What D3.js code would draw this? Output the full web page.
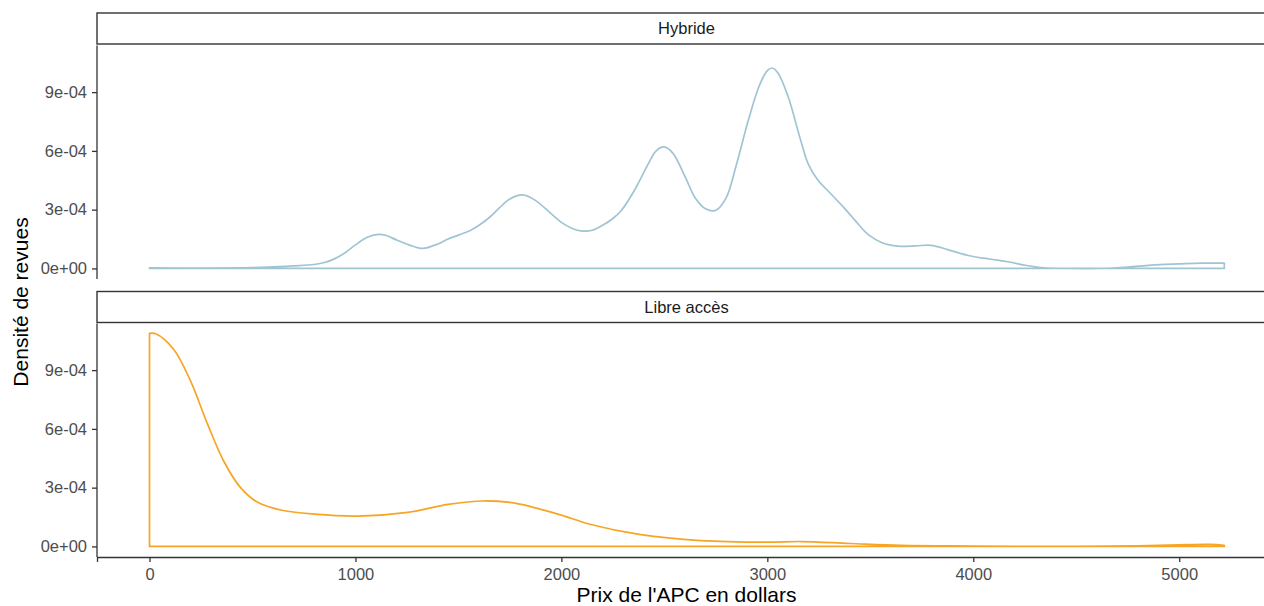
<!DOCTYPE html>
<html>
<head>
<meta charset="utf-8">
<script src="https://cdn.jsdelivr.net/npm/d3@7"></script>
<style>
  body { margin: 0; background: #fff; }
  text { font-family: "Liberation Sans", Arial, sans-serif; }
  .tick text { fill: #4d4d4d; font-size: 16.5px; }
  .strip-label { fill: #1a1a1a; font-size: 16.5px; }
  .axis-title { fill: #000; font-size: 21px; }
</style>
</head>
<body>
<svg id="chart" width="1264" height="606"></svg>
<script>
// facets
const facets = ["Hybride", "Libre accès"];
const facetColors = ["#9fc4d2", "#f6a524"];

// density estimates (price in $, density)
const hybridePrix = [0, 250, 500, 600, 700, 800, 850, 900, 950, 1000, 1060, 1113, 1150, 1200, 1260, 1327,
  1400, 1450, 1500, 1560, 1600, 1650, 1700, 1750, 1812, 1870, 1950, 2000, 2050, 2094, 2150, 2200, 2250,
  2289, 2350, 2420, 2460, 2498, 2540, 2600, 2650, 2700, 2750, 2800, 2850, 2906, 2960, 3000, 3022, 3050,
  3100, 3163, 3200, 3246, 3300, 3372, 3430, 3489, 3560, 3635, 3720, 3795, 3880, 3975, 4080, 4169, 4260,
  4344, 4450, 4621, 4750, 4864, 5000, 5107, 5219];
const hybrideDensite = [0.03, 0.02, 0.04, 0.08, 0.13, 0.2, 0.3, 0.5, 0.8, 1.2, 1.6, 1.74, 1.68, 1.45, 1.2,
  1.02, 1.25, 1.5, 1.7, 1.95, 2.2, 2.6, 3.1, 3.55, 3.75, 3.5, 2.8, 2.35, 2.05, 1.92, 1.95, 2.2, 2.55,
  2.93, 3.9, 5.3, 6.0, 6.2, 5.9, 4.7, 3.6, 3.05, 2.97, 3.6, 5.3, 7.5, 9.3, 10.1, 10.23, 10.0,
  8.8, 6.5, 5.3, 4.5, 3.9, 3.1, 2.4, 1.74, 1.3, 1.14, 1.15, 1.18, 0.95, 0.66, 0.48, 0.34, 0.15,
  0.03, 0.0, 0.0, 0.07, 0.17, 0.23, 0.27, 0.27].map(v => v * 1e-4);

const librePrix = [0, 30, 117, 199, 282, 360, 442, 525, 637, 800, 1011, 1254, 1450, 1623, 1780, 1900,
  2000, 2143, 2385, 2677, 3000, 3163, 3400, 3650, 4000, 4500, 4800, 5000, 5150, 5219];
const libreDensite = [10.88, 10.86, 10.07, 8.45, 6.24, 4.36, 3.0, 2.25, 1.86, 1.65, 1.55, 1.74, 2.15, 2.32,
  2.2, 1.89, 1.6, 1.12, 0.6, 0.3, 0.22, 0.25, 0.15, 0.05, 0.02, 0.0, 0.03, 0.08, 0.1, 0.06].map(v => v * 1e-4);

const xTicks = [0, 1000, 2000, 3000, 4000, 5000];
const yTicks = [0, 3e-4, 6e-4, 9e-4];
const yTickLabels = ["0e+00", "3e-04", "6e-04", "9e-04"];

const series = [
  d3.zip(hybridePrix, hybrideDensite),
  d3.zip(librePrix, libreDensite)
];

const svg = d3.select("#chart");

const panelLeft = 97;
const panelRight = 1276;
const stripH = 31;
const panels = [
  { stripTop: 13, top: 45.5, bottom: 279 },
  { stripTop: 291.5, top: 323.5, bottom: 557 }
];

const xScale = d3.scaleLinear().domain([-255, 5470]).range([panelLeft, panelRight]);

panels.forEach((p, i) => {
  const yScale = d3.scaleLinear().domain([-0.54e-4, 11.38e-4]).range([p.bottom, p.top]);

  // strip
  svg.append("rect")
    .attr("x", panelLeft)
    .attr("y", p.stripTop)
    .attr("width", panelRight - panelLeft + 10)
    .attr("height", stripH)
    .attr("fill", "#fff")
    .attr("stroke", "#333")
    .attr("stroke-width", 1.4);
  svg.append("text")
    .attr("class", "strip-label")
    .attr("x", (panelLeft + panelRight) / 2)
    .attr("y", p.stripTop + stripH / 2)
    .attr("dy", "0.35em")
    .attr("text-anchor", "middle")
    .text(facets[i]);

  // density outline (closed like geom_density)
  const area = d3.area()
    .x(d => xScale(d[0]))
    .y0(yScale(0))
    .y1(d => yScale(d[1]))
    .curve(d3.curveCatmullRom);
  svg.append("path")
    .datum(series[i])
    .attr("d", area)
    .attr("fill", "none")
    .attr("stroke", facetColors[i])
    .attr("stroke-width", 1.7)
    .attr("stroke-linejoin", "round");

  // y axis
  const leftAxis = d3.axisLeft(yScale)
    .tickValues(yTicks)
    .tickFormat((d, k) => yTickLabels[k])
    .tickSize(5)
    .tickPadding(5);
  const gy = svg.append("g")
    .attr("transform", `translate(${panelLeft}, 0)`)
    .call(leftAxis);
  gy.select(".domain").attr("d", `M0,${p.top}V${p.bottom}`);
  gy.selectAll("path, line").attr("stroke", "#333").attr("stroke-width", 1.3);

  // x axis only under the last panel
  if (i === panels.length - 1) {
    const bottomAxis = d3.axisBottom(xScale)
      .tickValues(xTicks)
      .tickFormat(d3.format("d"))
      .tickSize(5)
      .tickPadding(6);
    const gx = svg.append("g")
      .attr("transform", `translate(0, ${p.bottom})`)
      .call(bottomAxis);
    gx.selectAll("path, line").attr("stroke", "#333").attr("stroke-width", 1.3);
  }
});

// axis titles
svg.append("text")
  .attr("class", "axis-title")
  .attr("x", (panelLeft + panelRight) / 2)
  .attr("y", 602)
  .attr("text-anchor", "middle")
  .text("Prix de l'APC en dollars");

svg.append("text")
  .attr("class", "axis-title")
  .attr("transform", `translate(28, 302) rotate(-90)`)
  .attr("text-anchor", "middle")
  .text("Densité de revues");
</script>
</body>
</html>
